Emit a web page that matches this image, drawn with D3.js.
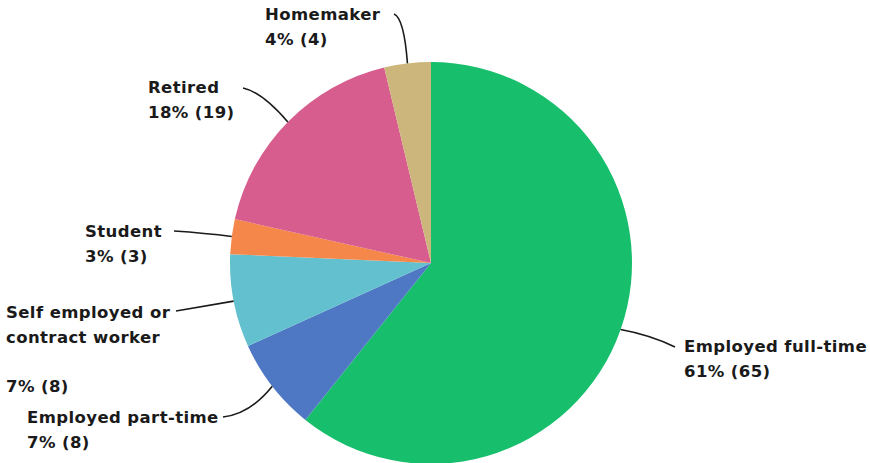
<!DOCTYPE html>
<html>
<head>
<meta charset="utf-8">
<script src="https://cdn.jsdelivr.net/npm/d3@7"></script>
<style>
  html, body { margin: 0; padding: 0; background: #fff; }
  svg { display: block; }
  text { font-family: "DejaVu Sans", sans-serif; font-weight: bold; font-size: 16.5px; letter-spacing: 0.4px; fill: #1a1a1a; }
</style>
</head>
<body>
<svg id="chart" width="870" height="463"></svg>
<script>
const categories = ["Employed full-time", "Employed part-time", "Self employed or contract worker", "Student", "Retired", "Homemaker"];
const counts = [65, 8, 8, 3, 19, 4];
const percents = ["61%", "7%", "7%", "3%", "18%", "4%"];
const colors = ["#17bf6d", "#4e78c4", "#63c1cf", "#f5874b", "#d65d8d", "#ccb67b"];

// label layout (text lines, anchor position, connector end)
const labelLayout = [
  { lines: ["Employed full-time", "61% (65)"], x: 684, y: 352, lx: 675, ly: 347, cx: 650, cy: 335 },
  { lines: ["Employed part-time", "7% (8)"], x: 27, y: 423, lx: 223, ly: 417, cx: 250, cy: 414 },
  { lines: ["Self employed or", "contract worker", "", "7% (8)"], x: 6, y: 318, lx: 176, ly: 311, cx: 200, cy: 307 },
  { lines: ["Student", "3% (3)"], x: 85, y: 237, lx: 174, ly: 231, cx: 205, cy: 233 },
  { lines: ["Retired", "18% (19)"], x: 148, y: 93, lx: 243, ly: 88, cx: 262, cy: 92 },
  { lines: ["Homemaker", "4% (4)"], x: 265, y: 20, lx: 394, ly: 14, cx: 404, cy: 18 }
];

const svg = d3.select("#chart");
const cx = 431, cy = 263, r = 201;
const g = svg.append("g").attr("transform", `translate(${cx},${cy})`);

const data = categories.map((c, i) => ({ name: c, value: counts[i], pct: percents[i], color: colors[i], lab: labelLayout[i] }));

const pie = d3.pie().value(d => d.value).sort(null);
const arc = d3.arc().innerRadius(0).outerRadius(r);
const arcs = pie(data);

g.selectAll("path.slice").data(arcs).enter().append("path")
  .attr("class", "slice")
  .attr("d", arc)
  .attr("fill", d => d.data.color);

// connectors
arcs.forEach(a => {
  const mid = (a.startAngle + a.endAngle) / 2;
  const px = cx + r * Math.sin(mid), py = cy - r * Math.cos(mid);
  const L = a.data.lab;
  svg.append("path")
    .attr("d", `M${L.lx},${L.ly} Q${L.cx},${L.cy} ${px},${py}`)
    .attr("fill", "none")
    .attr("stroke", "#1a1a1a")
    .attr("stroke-width", 1.6);
});

// labels
arcs.forEach(a => {
  const L = a.data.lab;
  const t = svg.append("text").attr("x", L.x).attr("y", L.y);
  L.lines.forEach((ln, i) => {
    t.append("tspan").attr("x", L.x).attr("dy", i === 0 ? 0 : 24.5).text(ln === "" ? "\u00a0" : ln);
  });
});
</script>
</body>
</html>
